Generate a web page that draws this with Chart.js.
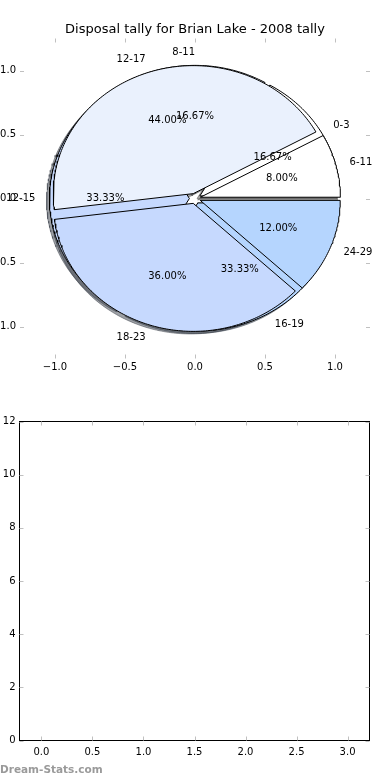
<!DOCTYPE html>
<html>
<head>
<meta charset="utf-8">
<script src="https://cdn.jsdelivr.net/npm/chart.js@4.4.0/dist/chart.umd.min.js"></script>
<style>
  html, body { margin: 0; padding: 0; background: #fff; }
  #wrap { position: relative; width: 390px; height: 780px; }
  .box { position: absolute; left: 0; width: 390px; height: 390px; }
</style>
</head>
<body>
<div id="wrap">
  <div class="box" style="top:0"><canvas id="pieChart"></canvas></div>
  <div class="box" style="top:390px"><canvas id="emptyChart"></canvas></div>
</div>
<script>
const chartTitle = 'Disposal tally for Brian Lake - 2008 tally';

// pie drawn on top
const ageGroupsA = ['6-11', '12-17', '18-23', '24-29'];
const disposalsA = [2, 11, 9, 3];

// pie drawn underneath
const ageGroupsB = ['0-3', '8-11', '12-15', '16-19'];
const disposalsB = [1, 1, 2, 2];

const pieTicks = [-1.0, -0.5, 0.0, 0.5, 1.0];

// lower panel has no data
const lowerValues = [];
const lowerXTicks = [0.0, 0.5, 1.0, 1.5, 2.0, 2.5, 3.0];
const lowerYTicks = [0, 2, 4, 6, 8, 10, 12];

const colorsA = ['#ffffff', '#eaf1fd', '#c6d9fe', '#b5d5fe'];
const colorsB = ['#ffffff', '#eaf1fd', '#c6d9fe', '#b5d5fe'];
const explode = 0.04;

Chart.defaults.font.family = 'DejaVu Sans';
Chart.defaults.font.size = 10;
Chart.defaults.color = '#000';

function fmt(v, digits) {
  return v.toFixed(digits).replace('-', '\u2212');
}

// angles of each wedge, same rules as a matplotlib pie (start 0, counter-clockwise)
function wedgeAngles(values) {
  const total = values.reduce((a, b) => a + b, 0);
  let start = 0;
  return values.map(v => {
    const end = start + v / total * 360;
    const w = { start, end, mid: (start + end) / 2, frac: v / total };
    start = end;
    return w;
  });
}

function wedgePoints(w, dx, dy) {
  const m = w.mid * Math.PI / 180;
  const cx = explode * Math.cos(m) + dx;
  const cy = explode * Math.sin(m) + dy;
  const pts = [{ x: cx, y: cy }];
  const steps = Math.max(2, Math.ceil(w.end - w.start));
  for (let k = 0; k <= steps; k++) {
    const a = (w.start + (w.end - w.start) * k / steps) * Math.PI / 180;
    pts.push({ x: cx + Math.cos(a), y: cy + Math.sin(a) });
  }
  pts.push({ x: cx, y: cy });
  return pts;
}

function shadowColor(hex) {
  const r = parseInt(hex.slice(1, 3), 16) * 0.3;
  const g = parseInt(hex.slice(3, 5), 16) * 0.3;
  const b = parseInt(hex.slice(5, 7), 16) * 0.3;
  return 'rgba(' + Math.round(r) + ',' + Math.round(g) + ',' + Math.round(b) + ',0.5)';
}

const anglesA = wedgeAngles(disposalsA);
const anglesB = wedgeAngles(disposalsB);

// bottom to top: shadows, lower pie, upper pie
const layers = [];
anglesB.forEach((w, i) => layers.push({ pts: wedgePoints(w, -0.02, -0.02), fill: shadowColor(colorsB[i]), edge: shadowColor(colorsB[i]) }));
anglesA.forEach((w, i) => layers.push({ pts: wedgePoints(w, -0.02, -0.02), fill: shadowColor(colorsA[i]), edge: shadowColor(colorsA[i]) }));
anglesB.forEach((w, i) => layers.push({ pts: wedgePoints(w, 0, 0), fill: colorsB[i], edge: '#000' }));
anglesA.forEach((w, i) => layers.push({ pts: wedgePoints(w, 0, 0), fill: colorsA[i], edge: '#000' }));

const pieDatasets = layers.map((l, i) => ({
  type: 'line',
  data: l.pts,
  backgroundColor: l.fill,
  borderColor: l.edge,
  borderWidth: 1,
  fill: 'shape',
  pointRadius: 0,
  tension: 0,
  order: layers.length - i
}));

// inside tick marks on all four sides
const tickMarks = {
  id: 'tickMarks',
  afterDraw(chart, args, opts) {
    const { ctx, chartArea: a, scales } = chart;
    ctx.save();
    if (opts.frame) {
      ctx.strokeStyle = '#000';
      ctx.lineWidth = 1;
      ctx.strokeRect(a.left, a.top, a.right - a.left, a.bottom - a.top);
    }
    ctx.strokeStyle = '#c0c0c0';
    ctx.lineWidth = 1;
    ctx.beginPath();
    scales.x.ticks.forEach(t => {
      const px = Math.round(scales.x.getPixelForValue(t.value)) + 0.5;
      ctx.moveTo(px, a.top); ctx.lineTo(px, a.top + 4);
      ctx.moveTo(px, a.bottom); ctx.lineTo(px, a.bottom - 4);
    });
    scales.y.ticks.forEach(t => {
      const py = Math.round(scales.y.getPixelForValue(t.value)) + 0.5;
      ctx.moveTo(a.left, py); ctx.lineTo(a.left + 4, py);
      ctx.moveTo(a.right, py); ctx.lineTo(a.right - 4, py);
    });
    ctx.stroke();
    ctx.restore();
  }
};

const pieText = {
  id: 'pieText',
  afterDatasetsDraw(chart) {
    const { ctx, scales } = chart;
    const drawSet = (angles, labels) => {
      angles.forEach((w, i) => {
        const m = w.mid * Math.PI / 180;
        const c = Math.cos(m), s = Math.sin(m);
        ctx.textBaseline = 'middle';
        ctx.textAlign = c > 1e-6 ? 'left' : 'right';
        ctx.fillText(labels[i], scales.x.getPixelForValue((explode + 1.1) * c), scales.y.getPixelForValue((explode + 1.1) * s));
        ctx.textAlign = 'center';
        ctx.fillText(fmt(w.frac * 100, 2) + '%', scales.x.getPixelForValue((explode + 0.6) * c), scales.y.getPixelForValue((explode + 0.6) * s));
      });
    };
    ctx.save();
    ctx.font = '10px "DejaVu Sans"';
    ctx.fillStyle = '#000';
    drawSet(anglesB, ageGroupsB);
    drawSet(anglesA, ageGroupsA);
    ctx.font = '13px "DejaVu Sans"';
    ctx.textAlign = 'center';
    ctx.textBaseline = 'middle';
    ctx.fillText(chartTitle, scales.x.getPixelForValue(0), 30);
    ctx.restore();
  }
};

const watermark = {
  id: 'watermark',
  afterDraw(chart) {
    const ctx = chart.ctx;
    ctx.save();
    ctx.font = 'bold 10.5px "DejaVu Sans"';
    ctx.fillStyle = '#9a9a9a';
    ctx.textAlign = 'left';
    ctx.textBaseline = 'middle';
    ctx.fillText('Dream-Stats.com', 0, 380);
    ctx.restore();
  }
};

function axis(min, max, values, digits, opts) {
  return {
    type: 'linear',
    min: min,
    max: max,
    grid: { display: false, drawTicks: false },
    border: { display: false },
    afterBuildTicks: s => { s.ticks = values.map(v => ({ value: v })); },
    ticks: {
      padding: opts.padding,
      maxRotation: 0,
      autoSkip: false,
      callback: v => fmt(v, digits)
    },
    afterFit: opts.fit
  };
}

new Chart(document.getElementById('pieChart'), {
  type: 'line',
  data: { datasets: pieDatasets },
  options: {
    responsive: true,
    maintainAspectRatio: false,
    animation: false,
    layout: { padding: { left: 0, right: 20, top: 38.5, bottom: 11.5 } },
    plugins: {
      legend: { display: false },
      tooltip: { enabled: false },
      tickMarks: { frame: false }
    },
    scales: {
      x: axis(-1.25, 1.25, pieTicks, 1, { padding: 3, fit: s => { s.height = 20; } }),
      y: axis(-1.25, 1.25, pieTicks, 1, { padding: 4, fit: s => { s.width = 20; } })
    }
  },
  plugins: [tickMarks, pieText]
});

new Chart(document.getElementById('emptyChart'), {
  type: 'scatter',
  data: { datasets: [{ data: lowerValues }] },
  options: {
    responsive: true,
    maintainAspectRatio: false,
    animation: false,
    layout: { padding: { left: 0, right: 20.5, top: 31.5, bottom: 19.5 } },
    plugins: {
      legend: { display: false },
      tooltip: { enabled: false },
      tickMarks: { frame: true }
    },
    scales: {
      x: axis(-0.215, 3.215, lowerXTicks, 1, { padding: 6, fit: s => { s.height = 20; } }),
      y: axis(0, 12, lowerYTicks, 0, { padding: 4, fit: s => { s.width = 19.5; } })
    }
  },
  plugins: [tickMarks, watermark]
});
</script>
</body>
</html>
